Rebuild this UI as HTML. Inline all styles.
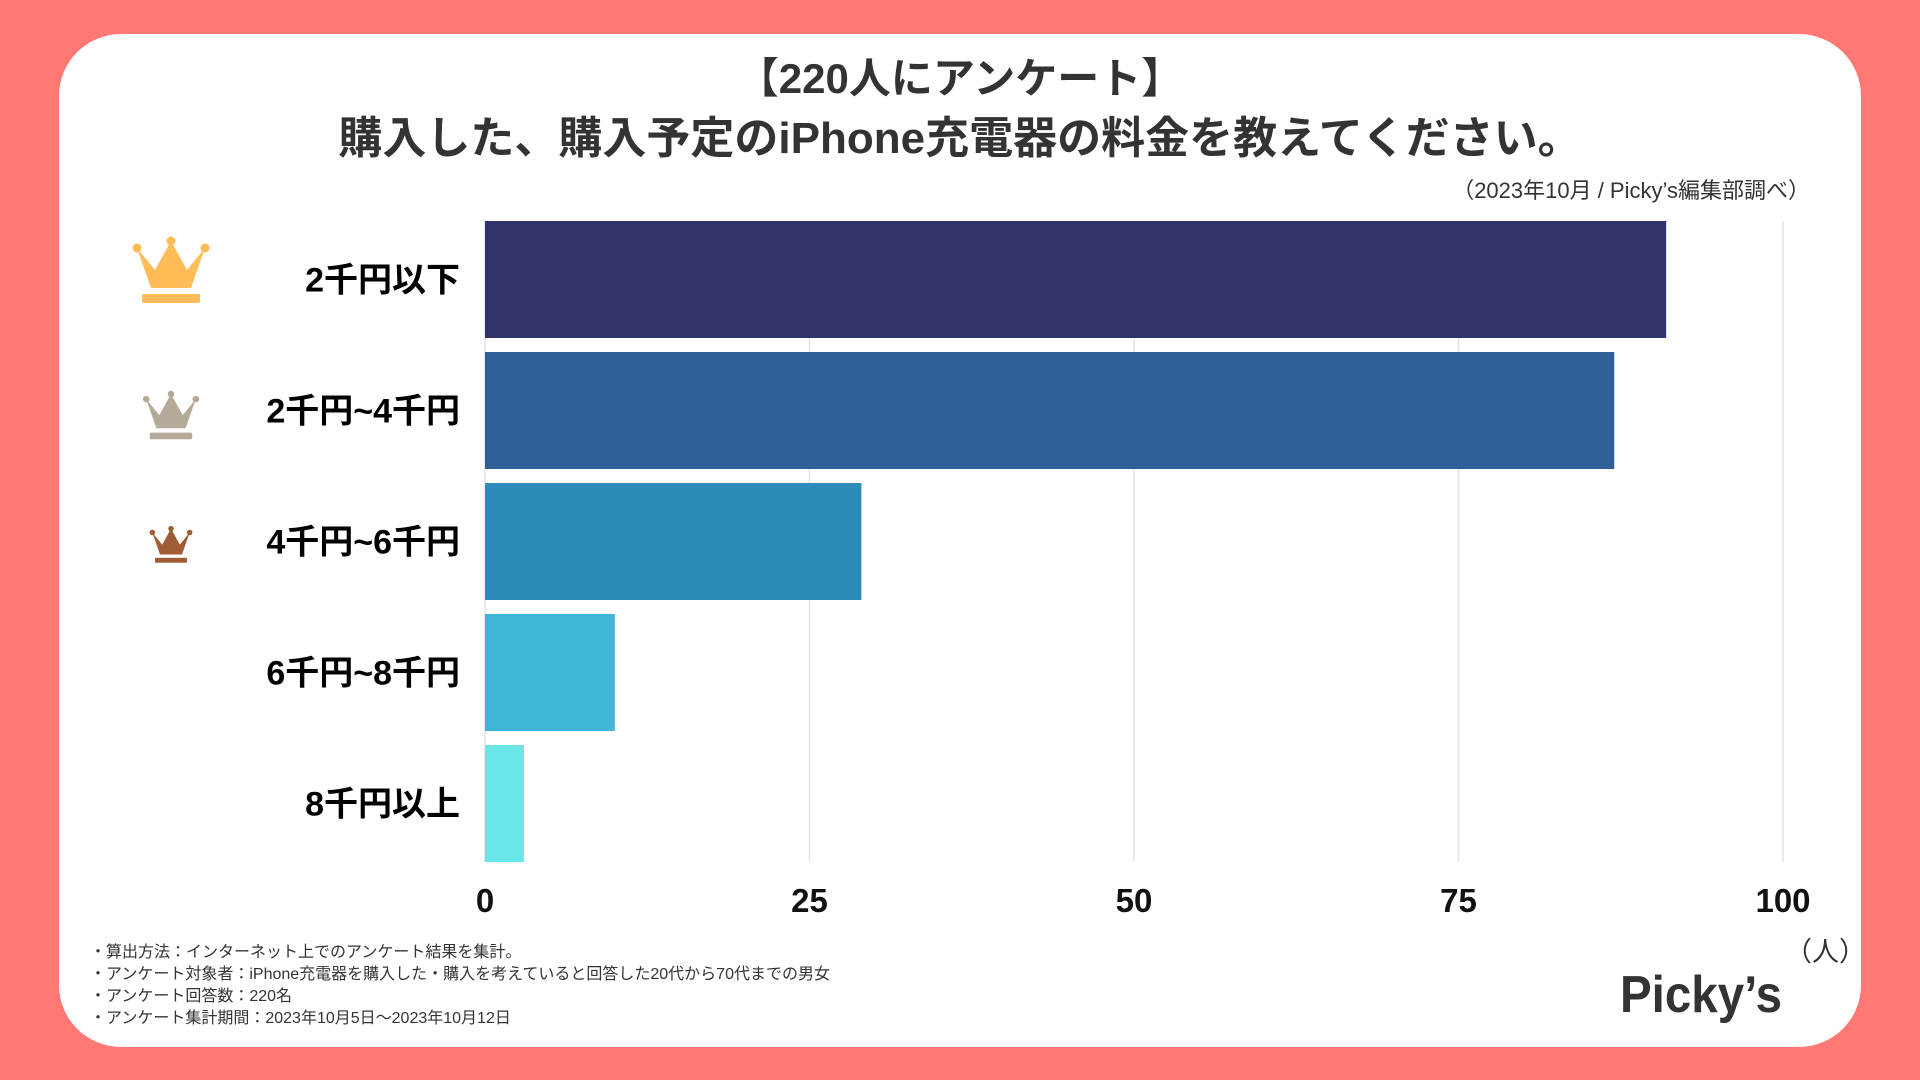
<!DOCTYPE html>
<html><head><meta charset="utf-8">
<style>
html,body{margin:0;padding:0;width:1920px;height:1080px;overflow:hidden;background:#FF7873;}
svg{display:block;font-family:"Liberation Sans","Noto Sans CJK JP",sans-serif;}
</style></head>
<body>
<svg id="chart" width="1920" height="1080" viewBox="0 0 1920 1080">
<rect x="0" y="0" width="1920" height="1080" fill="#FF7873"/>
<rect x="59" y="34" width="1802" height="1013" rx="62" fill="#FFFFFF"/>
<text x="960" y="93" text-anchor="middle" font-size="42" font-weight="bold" fill="#333">【220人にアンケート】</text>
<text x="960" y="153" text-anchor="middle" font-size="44" font-weight="bold" fill="#333">購入した、購入予定のiPhone充電器の料金を教えてください。</text>
<text x="1810" y="198" text-anchor="end" font-size="22" fill="#333">（2023年10月 / Picky’s編集部調べ）</text>
<g id="grid"></g>
<g id="bars"></g>
<g id="ticks"></g>
<g id="cats"></g>
<g transform="translate(171,278) scale(1.0)">
<path d="M-34,-30 L-20,10 L20,10 L34,-30 L16,-8 L0,-37 L-16,-8 Z" fill="#FFBC57"/>
<circle cx="-34" cy="-30" r="4.5" fill="#FFBC57"/><circle cx="0" cy="-37" r="4.5" fill="#FFBC57"/><circle cx="34" cy="-30" r="4.5" fill="#FFBC57"/>
<rect x="-29" y="16" width="58" height="9" rx="2" fill="#FFBC57"/>
</g>
<g transform="translate(171,421) scale(0.73)">
<path d="M-34,-30 L-20,10 L20,10 L34,-30 L16,-8 L0,-37 L-16,-8 Z" fill="#B5A99A"/>
<circle cx="-34" cy="-30" r="4.5" fill="#B5A99A"/><circle cx="0" cy="-37" r="4.5" fill="#B5A99A"/><circle cx="34" cy="-30" r="4.5" fill="#B5A99A"/>
<rect x="-29" y="16" width="58" height="9" rx="2" fill="#B5A99A"/>
</g>
<g transform="translate(171,549) scale(0.55)">
<path d="M-34,-30 L-20,10 L20,10 L34,-30 L16,-8 L0,-37 L-16,-8 Z" fill="#A05C34"/>
<circle cx="-34" cy="-30" r="5" fill="#A05C34"/><circle cx="0" cy="-37" r="5" fill="#A05C34"/><circle cx="34" cy="-30" r="5" fill="#A05C34"/>
<rect x="-29" y="16" width="58" height="9" fill="#A05C34"/>
</g>
<text x="1866" y="961" text-anchor="end" font-size="27" fill="#333">（人）</text>
<g font-size="16" fill="#333">
<text x="90" y="957">・算出方法：インターネット上でのアンケート結果を集計。</text>
<text x="90" y="979">・アンケート対象者：iPhone充電器を購入した・購入を考えていると回答した20代から70代までの男女</text>
<text x="90" y="1001">・アンケート回答数：220名</text>
<text x="90" y="1023">・アンケート集計期間：2023年10月5日〜2023年10月12日</text>
</g>
<text x="1782" y="1012" text-anchor="end" font-size="52" font-weight="bold" fill="#333" textLength="162" lengthAdjust="spacingAndGlyphs">Picky’s</text>
</svg>
<script>
const categories = ["2千円以下","2千円~4千円","4千円~6千円","6千円~8千円","8千円以上"];
const values = [91, 87, 29, 10, 3];
const tickValues = [0, 25, 50, 75, 100];
const barColors = ["#30346B","#2E5F97","#2C8BB9","#40B6D6","#6AE5E8"];

const NS = "http://www.w3.org/2000/svg";
const x0 = 485, x1 = 1783, xMax = 100;
const yTop = 221, step = 131, barH = 117;
function xScale(v){ return x0 + (x1 - x0) * v / xMax; }
function yScale(i){ return yTop + i * step; }
const plotBottom = yScale(categories.length - 1) + barH;

const grid = document.getElementById("grid");
const ticks = document.getElementById("ticks");
tickValues.forEach(function(t){
  const l = document.createElementNS(NS, "line");
  
  
  l.setAttribute("x1", xScale(t)); l.setAttribute("x2", xScale(t));
  l.setAttribute("y1", yTop); l.setAttribute("y2", plotBottom);
  l.setAttribute("stroke", "#E3E3E3"); l.setAttribute("stroke-width", "1.5");
  grid.appendChild(l);
  const tx = document.createElementNS(NS, "text");
  
  
  tx.setAttribute("x", xScale(t)); tx.setAttribute("y", 912);
  tx.setAttribute("text-anchor", "middle"); tx.setAttribute("font-size", "33");
  tx.setAttribute("font-weight", "bold"); tx.setAttribute("fill", "#111");
  tx.textContent = String(t);
  ticks.appendChild(tx);
});

const bars = document.getElementById("bars");
const cats = document.getElementById("cats");
categories.forEach(function(c, i){
  const r = document.createElementNS(NS, "rect");
  
  
  r.setAttribute("x", xScale(0)); r.setAttribute("y", yScale(i));
  r.setAttribute("width", xScale(values[i]) - xScale(0)); r.setAttribute("height", barH);
  r.setAttribute("fill", barColors[i]);
  bars.appendChild(r);
  const tx = document.createElementNS(NS, "text");
  
  
  tx.setAttribute("x", 460); tx.setAttribute("y", yScale(i) + barH/2 + 12);
  tx.setAttribute("text-anchor", "end"); tx.setAttribute("font-size", "34");
  tx.setAttribute("font-weight", "bold"); tx.setAttribute("fill", "#000");
  tx.textContent = c;
  cats.appendChild(tx);
});
</script>
</body></html>
